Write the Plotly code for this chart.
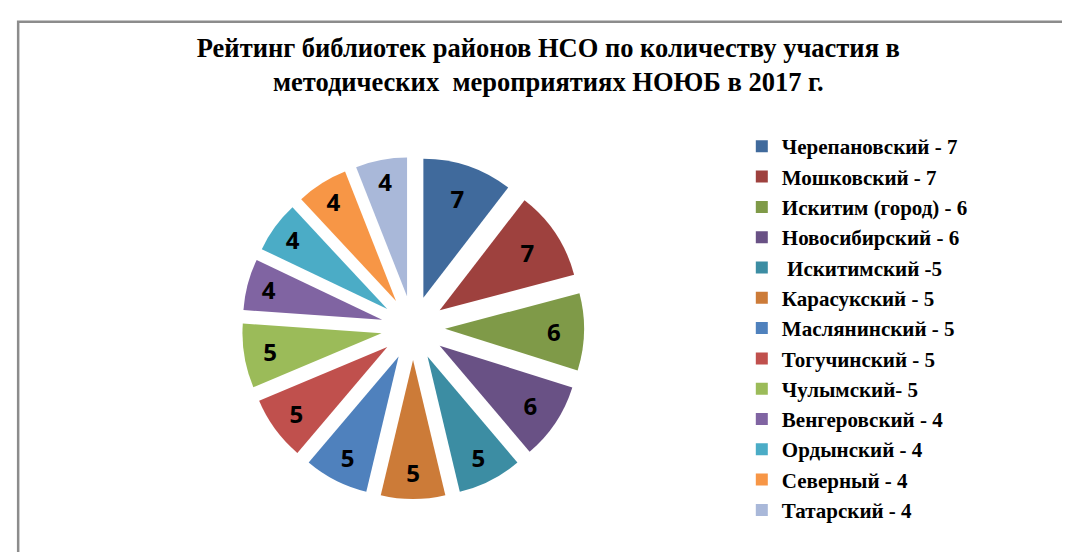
import plotly.graph_objects as go

categories = ["Черепановский - 7", "Мошковский - 7", "Искитим (город) - 6", "Новосибирский - 6",
              " Искитимский -5", "Карасукский - 5", "Маслянинский - 5", "Тогучинский - 5",
              "Чулымский- 5", "Венгеровский - 4", "Ордынский - 4", "Северный - 4", "Татарский - 4"]
values = [7, 7, 6, 6, 5, 5, 5, 5, 5, 4, 4, 4, 4]
colors = ["#406A9C", "#9E413E", "#7F9A48", "#695185", "#3C8DA3", "#CC7B38", "#4F81BD",
          "#C0504D", "#9BBB59", "#8064A2", "#4BACC6", "#F79646", "#A9B8D9"]
title_text = "Рейтинг библиотек районов НСО по количеству участия в<br>методических  мероприятиях НОЮБ в 2017 г."

fig = go.Figure(go.Pie(
    labels=categories, values=values, sort=False, direction="clockwise", rotation=0,
    marker=dict(colors=colors, line=dict(width=0)),
    pull=[0.23] * len(values),
    textinfo="value", textposition="inside", insidetextorientation="horizontal",
    textfont=dict(family="Open Sans", size=24, color="black", weight="bold"),
    domain=dict(x=[0.2187, 0.5384], y=[0.1105, 0.7301]),
))

fig.update_layout(
    width=1070, height=552, autosize=False,
    margin=dict(l=0, r=0, t=0, b=0),
    paper_bgcolor="white", plot_bgcolor="white",
    title=dict(text=title_text, x=0.505, xanchor="center", y=0.912, yanchor="middle",
               font=dict(family="Liberation Serif", size=26.5, color="black", weight="bold")),
    legend=dict(x=0.6858, y=0.786, xanchor="left", yanchor="top",
                font=dict(family="Liberation Serif", size=21, color="black", weight="bold"),
                bgcolor="rgba(0,0,0,0)"),
    shapes=[dict(type="rect", xref="paper", yref="paper", x0=0.0095, x1=1.05, y0=-0.05, y1=0.9752,
                 line=dict(color="#8C8C8C", width=2.5), fillcolor="rgba(0,0,0,0)", layer="below")],
)

fig.write_html("out.html")
